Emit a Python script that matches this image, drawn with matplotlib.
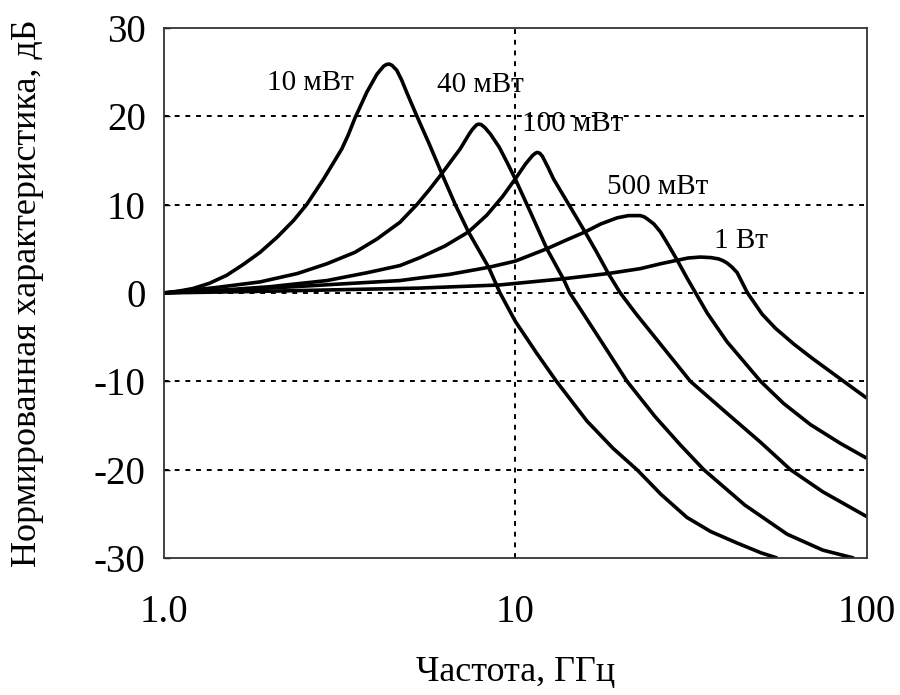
import matplotlib
matplotlib.use("Agg")
import matplotlib.pyplot as plt

plt.rcParams["font.family"] = ["Liberation Serif", "DejaVu Serif"]
plt.rcParams["axes.unicode_minus"] = False

# values: frequency (GHz) vs normalised response (dB)
f_10mw = [1.0, 1.1, 1.21, 1.35, 1.51, 1.68, 1.88, 2.1, 2.34, 2.55, 2.85, 3.21, 3.35, 3.5, 3.78,
          4.04, 4.22, 4.3, 4.38, 4.46, 4.6, 4.75, 4.91, 5.25, 5.7, 6.18, 6.75, 7.36, 8.4, 9.05,
          10, 11.5, 13.1, 16, 19, 22.2, 26, 30.8, 36, 42.8, 50, 55.7]
db_10mw = [0, 0.2, 0.5, 1.1, 2.0, 3.2, 4.6, 6.3, 8.2, 10, 12.9, 16.3, 17.9, 19.8, 22.7,
           24.75, 25.65, 25.85, 25.9, 25.75, 25.2, 24.1, 22.7, 20, 16.8, 13.5, 10, 6.9, 2.9, 0,
           -3.2, -6.8, -10, -14.5, -17.6, -20, -22.8, -25.4, -27, -28.3, -29.4, -30]

f_40mw = [1.0, 1.4, 1.88, 2.4, 2.91, 3.5, 4.04, 4.7, 5.25, 5.7, 6.18, 6.97, 7.4, 7.55, 7.75,
          7.86, 8.0, 8.2, 8.49, 9.0, 9.47, 10, 11, 12.3, 13.7, 14.3, 17, 20.8, 25, 29.5, 34.4,
          45, 59.4, 75, 92]
db_40mw = [0, 0.6, 1.25, 2.2, 3.3, 4.6, 6.1, 8.0, 10, 11.7, 13.5, 16.3, 18.0, 18.5, 19.0,
           19.1, 19.05, 18.7, 18.0, 16.5, 14.8, 12.9, 9.3, 5.0, 1.6, 0, -4.6, -10, -14.0, -17.2,
           -20, -24.0, -27.3, -29.1, -30]

f_100mw = [1.0, 1.5, 2.0, 2.91, 3.8, 4.7, 5.36, 6.3, 7.36, 8.3, 9.2, 10, 10.7, 11.2, 11.4,
           11.55, 11.75, 11.95, 12.4, 12.85, 14.5, 15.8, 17, 18.4, 19.9, 22, 25.9, 31.5, 40,
           49.9, 60.7, 75, 100]
db_100mw = [0, 0.35, 0.7, 1.4, 2.3, 3.1, 4.0, 5.3, 6.9, 8.8, 10.9, 12.9, 14.6, 15.55, 15.8,
            15.9, 15.8, 15.45, 14.2, 12.9, 9.4, 6.9, 4.7, 2.2, 0, -2.3, -5.8, -10, -13.6,
            -16.9, -20, -22.5, -25.3]

f_500mw = [1.0, 1.6, 2.34, 3.3, 4.7, 5.36, 6.5, 8.4, 10, 12.3, 14, 15.8, 17.5, 19.5, 21, 22.7,
           23.3, 23.8, 24.8, 25.9, 27.3, 28.9, 30.8, 32.6, 35.2, 40, 49.9, 58, 69.2, 84, 100]
db_500mw = [0, 0.35, 0.7, 1.05, 1.4, 1.7, 2.1, 2.9, 3.6, 5.0, 6.0, 6.9, 7.8, 8.5, 8.75, 8.75,
            8.6, 8.35, 7.8, 6.9, 5.4, 3.7, 1.7, 0, -2.3, -5.5, -10, -12.5, -14.9, -17.0, -18.7]

f_1w = [1.0, 2.0, 3.5, 5.36, 9.0, 13.7, 18.4, 22.7, 25.9, 28.9, 31, 33.6, 36, 37.9, 39, 40,
        41.3, 42.8, 45.8, 50.4, 55, 62.1, 70, 77.3, 86, 100]
db_1w = [0, 0.2, 0.4, 0.55, 0.9, 1.6, 2.2, 2.75, 3.3, 3.7, 3.95, 4.06, 4.0, 3.85, 3.65, 3.4,
         2.95, 2.3, 0, -2.4, -4.0, -5.8, -7.4, -8.65, -10, -11.9]

series = [(f_10mw, db_10mw), (f_40mw, db_40mw), (f_100mw, db_100mw),
          (f_500mw, db_500mw), (f_1w, db_1w)]

labels = ["10 мВт", "40 мВт", "100 мВт", "500 мВт", "1 Вт"]
label_f = [2.62, 7.95, 14.6, 25.4, 44.0]
label_db = [23.7, 23.5, 19.1, 12.0, 5.9]

xticks = [1, 10, 100]
xtick_labels = ["1.0", "10", "100"]
yticks = [-30, -20, -10, 0, 10, 20, 30]

fig = plt.figure(figsize=(9, 6.95), dpi=100)
ax = fig.add_axes([0.182, 0.197, 0.781, 0.763])

for f, db in series:
    ax.plot(f, db, color="black", linewidth=2.6, solid_joinstyle="round",
            solid_capstyle="butt")

for txt, fx, dy in zip(labels, label_f, label_db):
    ax.text(fx, dy, txt, fontsize=21, ha="center", va="center")

ax.set_xscale("log")
ax.set_xlim(1, 100)
ax.set_ylim(-30, 30)
ax.set_xticks(xticks)
ax.set_xticklabels(xtick_labels)
ax.minorticks_off()
ax.set_yticks(yticks)

# dotted grid: one vertical line at 10 GHz, horizontal lines inside the box
ax.axvline(10, color="black", linestyle=(0, (2.5, 3)), linewidth=1.4, zorder=0)
for y in yticks[1:-1]:
    ax.axhline(y, color="black", linestyle=(0, (2.5, 3)), linewidth=1.4, zorder=0)

ax.tick_params(axis="x", length=0, pad=26, labelsize=28)
ax.tick_params(axis="y", direction="in", length=4, width=1, pad=13, labelsize=28)
for sp in ax.spines.values():
    sp.set_linewidth(1.3)
    sp.set_color("#333333")

ax.set_xlabel("Частота, ГГц", fontsize=26, labelpad=18)
ax.set_ylabel("Нормированная характеристика, дБ", fontsize=26, labelpad=36)

fig.savefig("out.png", dpi=100)
